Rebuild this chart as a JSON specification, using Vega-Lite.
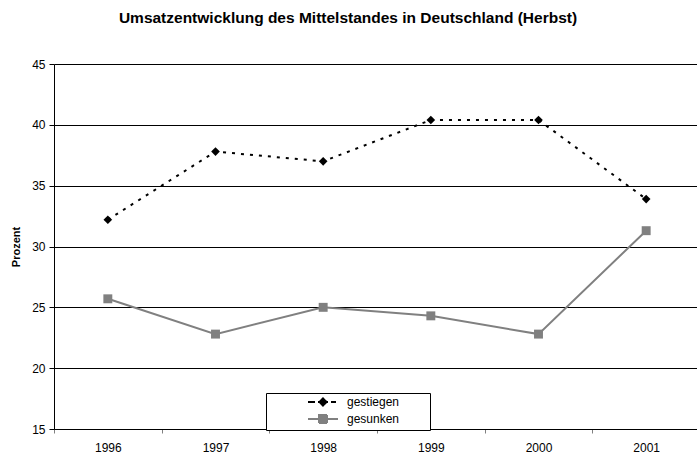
{
  "$schema": "https://vega.github.io/schema/vega-lite/v6.json",
  "autosize": "none",
  "padding": {"left": 54, "top": 64, "right": 0, "bottom": 25},
  "width": 646,
  "height": 365,
  "background": "white",
  "title": {
    "text": "Umsatzentwicklung des Mittelstandes in Deutschland (Herbst)",
    "font": "Liberation Sans",
    "fontSize": 15.5,
    "fontWeight": "bold",
    "color": "black",
    "anchor": "middle",
    "dx": -29,
    "offset": 32
  },
  "data": {
    "values": [
      {"Jahr": "1996", "Serie": "gestiegen", "Wert": 32.2},
      {"Jahr": "1997", "Serie": "gestiegen", "Wert": 37.8},
      {"Jahr": "1998", "Serie": "gestiegen", "Wert": 37.0},
      {"Jahr": "1999", "Serie": "gestiegen", "Wert": 40.4},
      {"Jahr": "2000", "Serie": "gestiegen", "Wert": 40.4},
      {"Jahr": "2001", "Serie": "gestiegen", "Wert": 33.9},
      {"Jahr": "1996", "Serie": "gesunken", "Wert": 25.7},
      {"Jahr": "1997", "Serie": "gesunken", "Wert": 22.8},
      {"Jahr": "1998", "Serie": "gesunken", "Wert": 25.0},
      {"Jahr": "1999", "Serie": "gesunken", "Wert": 24.3},
      {"Jahr": "2000", "Serie": "gesunken", "Wert": 22.8},
      {"Jahr": "2001", "Serie": "gesunken", "Wert": 31.3}
    ]
  },
  "encoding": {
    "x": {
      "field": "Jahr",
      "type": "ordinal",
      "scale": {"type": "band", "paddingInner": 0, "paddingOuter": 0},
      "axis": {
        "title": null,
        "labelAngle": 0,
        "labelFont": "Liberation Sans",
        "labelFontSize": 12,
        "labelColor": "black",
        "labelPadding": 9,
        "tickBand": "extent",
        "tickColor": "#808080",
        "tickSize": 4,
        "domainColor": "black",
        "grid": false
      }
    },
    "y": {
      "field": "Wert",
      "type": "quantitative",
      "scale": {"domain": [15, 45], "nice": false, "zero": false},
      "axis": {
        "title": "Prozent",
        "titleFont": "Liberation Sans",
        "titleFontSize": 11,
        "titleFontWeight": "bold",
        "titleColor": "black",
        "titlePadding": 10,
        "values": [15, 20, 25, 30, 35, 40, 45],
        "labelFont": "Liberation Sans",
        "labelFontSize": 12,
        "labelColor": "black",
        "labelPadding": 4,
        "tickSize": 5,
        "tickColor": "black",
        "domainColor": "black",
        "gridColor": "black",
        "gridOpacity": 1
      }
    },
    "color": {
      "field": "Serie",
      "type": "nominal",
      "scale": {"domain": ["gestiegen", "gesunken"], "range": ["black", "#808080"]},
      "legend": {
        "orient": "none",
        "legendX": 212,
        "legendY": 329,
        "title": "\u00a0",
        "titleOrient": "right",
        "titlePadding": 28,
        "titleFontSize": 12,
        "fillColor": "white",
        "strokeColor": "black",
        "padding": 3,
        "rowPadding": 1,
        "labelFont": "Liberation Sans",
        "labelFontSize": 12,
        "labelColor": "black",
        "symbolSize": 100,
        "symbolStrokeWidth": 2,
        "symbolOffset": 48,
        "labelOffset": 18,
        "offset": 0,
        "labelLimit": 200,
        "encode": {
          "symbols": {
            "update": {
              "shape": {"signal": "datum.value === 'gestiegen' ? 'M-3,0H-1.6M-1.0,0H-0.4M0,-0.7L0.7,0L0,0.7L-0.7,0ZM0.4,0H1.0M1.6,0H2.6' : 'M-3,0H3M-0.8,-0.8H0.8V0.8H-0.8Z'"},
              "fill": {"signal": "datum.value === 'gestiegen' ? 'black' : '#808080'"},
              "stroke": {"signal": "datum.value === 'gestiegen' ? 'black' : '#808080'"},
              "strokeDash": {"value": [1, 0]},
              "opacity": {"value": 1}
            }
          }
        }
      }
    }
  },
  "layer": [
    {
      "transform": [{"filter": "datum.Serie === 'gestiegen'"}],
      "mark": {"type": "line", "strokeWidth": 2, "strokeDash": [3, 6]}
    },
    {
      "transform": [{"filter": "datum.Serie === 'gesunken'"}],
      "mark": {"type": "line", "strokeWidth": 2}
    },
    {
      "transform": [{"filter": "datum.Serie === 'gestiegen'"}],
      "mark": {"type": "point", "filled": true, "opacity": 1, "shape": "diamond", "size": 75}
    },
    {
      "transform": [{"filter": "datum.Serie === 'gesunken'"}],
      "mark": {"type": "point", "filled": true, "opacity": 1, "shape": "square", "size": 80}
    }
  ],
  "config": {
    "view": {"stroke": null},
    "axis": {"gridWidth": 1}
  }
}
